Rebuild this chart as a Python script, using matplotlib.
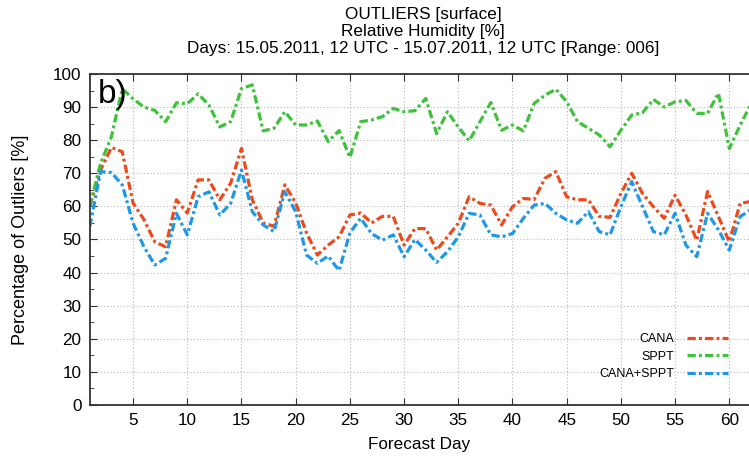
import matplotlib
matplotlib.use('Agg')
import matplotlib.pyplot as plt
import numpy as np
from matplotlib.ticker import MultipleLocator

plt.rcParams['font.family'] = ['Liberation Sans', 'DejaVu Sans']

# Forecast days and outlier percentages
days = np.arange(1, 63)
cana = [60, 71, 77.8, 76.5, 61, 56, 49.3, 47.8, 62, 58,
        68, 68, 62, 67, 77.5, 62, 55, 54, 66.5, 61,
        52, 45.3, 48.3, 50.8, 57.4, 58, 55, 57, 57, 48.3,
        53.3, 53.3, 46.8, 50.8, 54.9, 62.9, 60.9, 60.4, 54.4, 59.9,
        62.4, 62.1, 68.5, 70.5, 62.9, 62, 62, 57, 56.7, 63.9,
        70, 63.9, 59.9, 56.4, 63.4, 57.4, 49.8, 64.5, 56.9, 49.3,
        60.9, 61.5]
sppt = [60, 73, 81, 95.5, 92.5, 90, 89, 85.6, 91.3, 91,
        94, 90.6, 84, 85.6, 95.6, 96.7, 82.8, 83.6, 88.6, 84.6,
        84.6, 85.8, 79.6, 82.9, 74.8, 85.6, 86.1, 87.1, 89.6, 88.6,
        88.9, 92.6, 82, 88.6, 84, 79.8, 85.6, 91.4, 83, 84.6,
        82.8, 91.1, 93.6, 95.4, 91.6, 85.6, 83.6, 81.6, 78, 83,
        87.6, 88.3, 92.3, 90, 91.6, 92, 88.1, 88.1, 94.2, 77.5,
        84.5, 91]
cana_sppt = [53.9, 70.5, 70.2, 66.5, 54.9, 47.8, 42.3, 44.3, 57.9, 51.4,
             62.9, 64.4, 57.4, 60.9, 71, 58.4, 54.4, 52.4, 64.4, 58.4,
             45.3, 42.8, 45, 40.6, 52, 56.4, 51.8, 49.8, 51.4, 44.8,
             50, 46.8, 43.1, 46.3, 50.8, 57.9, 57.4, 51.4, 50.8, 51.8,
             56.4, 60.4, 60.9, 57.9, 55.9, 54.9, 58.4, 52.4, 51.4, 59.9,
             67.5, 59.9, 52.4, 51.4, 57.9, 48.3, 44.8, 57.9, 52.9, 46.8,
             56.9, 59]

series = [('CANA', cana, '#ec4a1c'),
          ('SPPT', sppt, '#3ec23a'),
          ('CANA+SPPT', cana_sppt, '#1e98e6')]

fig = plt.figure(figsize=(7.49, 4.61), dpi=100)
ax = fig.add_axes([0.1198, 0.1215, 0.8802, 0.718])

for name, vals, col in series:
    ax.plot(days, vals, color=col, lw=2.3, dashes=(2.6, 1.0, 0.9, 1.0), label=name)

ax.set_xlim(1, 61.82)
ax.set_ylim(0, 100)
ax.xaxis.set_major_locator(MultipleLocator(5))
ax.yaxis.set_major_locator(MultipleLocator(10))
ax.yaxis.set_minor_locator(MultipleLocator(5))
ax.grid(True, which='major', color='#b8b8b8', linestyle=(0, (1, 2)), lw=0.8)
ax.tick_params(which='both', direction='in', top=True, right=False,
               labelsize=12.3, color='#333333', pad=6)
ax.tick_params(which='major', length=5)
ax.tick_params(which='minor', length=3)
ax.spines['right'].set_visible(False)
for s in ['left', 'bottom', 'top']:
    ax.spines[s].set_linewidth(1.3)
    ax.spines[s].set_color('#333333')

ax.set_xlabel('Forecast Day', fontsize=12.3, labelpad=6)
ax.set_ylabel('Percentage of Outliers [%]', fontsize=13, labelpad=17)

fig.text(0.565, 0.984, 'OUTLIERS [surface]\nRelative Humidity [%]\n'
         'Days: 15.05.2011, 12 UTC - 15.07.2011, 12 UTC [Range: 006]',
         ha='center', va='top', fontsize=12.3, linespacing=1.15)

ax.text(0.012, 0.985, 'b)', transform=ax.transAxes, fontsize=24,
        ha='left', va='top')

leg = ax.legend(loc='lower right', bbox_to_anchor=(0.985, 0.04), frameon=False,
                markerfirst=False, fontsize=9, handlelength=3.3,
                labelspacing=0.45, handletextpad=1.0)

fig.savefig('out.png', dpi=100)
